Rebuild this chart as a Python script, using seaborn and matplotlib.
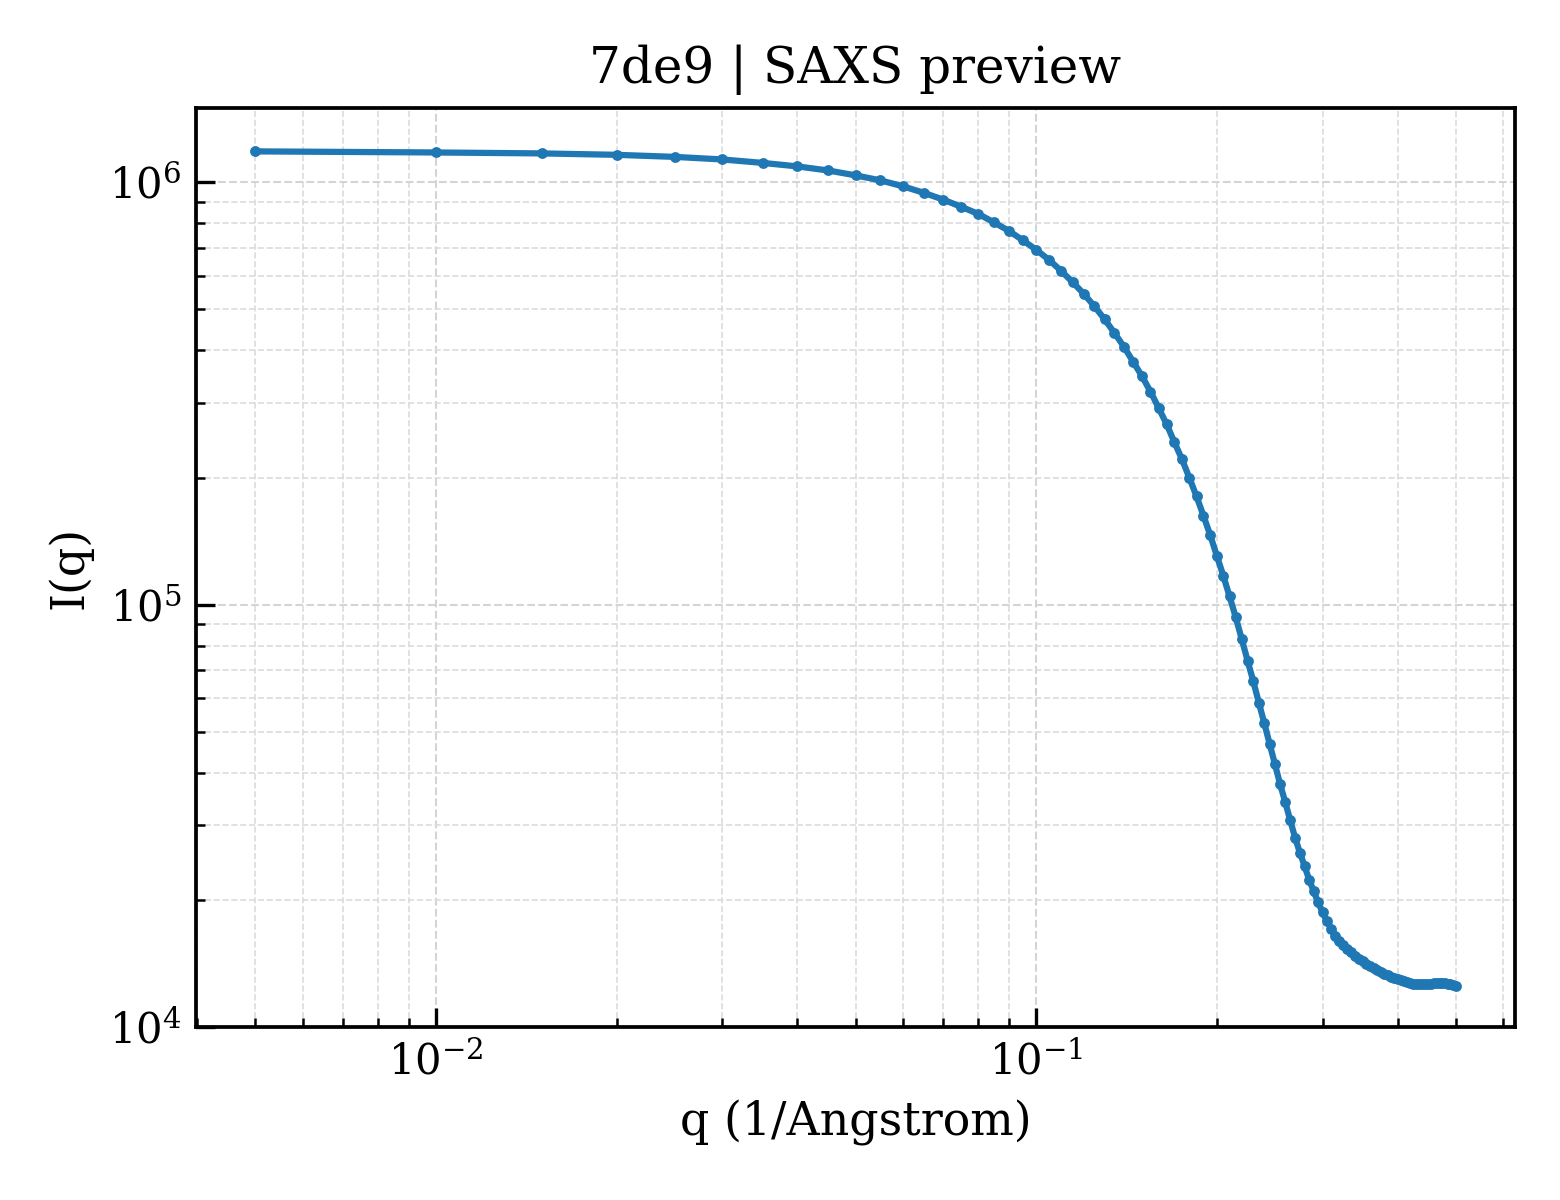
import numpy as np
import pandas as pd
import matplotlib
matplotlib.use("Agg")
import matplotlib.pyplot as plt
import seaborn as sns

title = "7de9 | SAXS preview"
x_label = "q (1/Angstrom)"
y_label = "I(q)"

q_values = [
    0.005, 0.010, 0.015, 0.020, 0.025, 0.030, 0.035, 0.040, 0.045, 0.050,
    0.055, 0.060, 0.065, 0.070, 0.075, 0.080, 0.085, 0.090, 0.095, 0.100,
    0.105, 0.110, 0.115, 0.120, 0.125, 0.130, 0.135, 0.140, 0.145, 0.150,
    0.155, 0.160, 0.165, 0.170, 0.175, 0.180, 0.185, 0.190, 0.195, 0.200,
    0.205, 0.210, 0.215, 0.220, 0.225, 0.230, 0.235, 0.240, 0.245, 0.250,
    0.255, 0.260, 0.265, 0.270, 0.275, 0.280, 0.285, 0.290, 0.295, 0.300,
    0.305, 0.310, 0.315, 0.320, 0.325, 0.330, 0.335, 0.340, 0.345, 0.350,
    0.355, 0.360, 0.365, 0.370, 0.375, 0.380, 0.385, 0.390, 0.395, 0.400,
    0.405, 0.410, 0.415, 0.420, 0.425, 0.430, 0.435, 0.440, 0.445, 0.450,
    0.455, 0.460, 0.465, 0.470, 0.475, 0.480, 0.485, 0.490, 0.495, 0.500,
]

intensity = [
    1184000, 1177000, 1171000, 1162000, 1149000, 1133000, 1112000, 1091000, 1067000, 1039000,
    1011000, 978500, 944500, 910100, 875300, 842500, 804400, 768000, 729300, 692500,
    655700, 617600, 580200, 544900, 509000, 474300, 440100, 408400, 376400, 347900,
    319700, 292200, 267200, 242200, 220800, 199600, 180500, 162400, 146000, 130500,
    117100, 104600, 93430, 82960, 73730, 65870, 58570, 52330, 46680, 41840,
    37530, 34080, 30860, 28080, 25880, 24060, 22320, 20970, 19720, 18690,
    17800, 17090, 16410, 16010, 15670, 15330, 15040, 14760, 14520, 14320,
    14130, 13980, 13810, 13640, 13510, 13380, 13260, 13160, 13070, 12980,
    12900, 12830, 12760, 12700, 12660, 12630, 12620, 12620, 12630, 12650,
    12670, 12690, 12700, 12700, 12690, 12680, 12660, 12620, 12550, 12480,
]

df = pd.DataFrame({"q": q_values, "I": intensity})

sns.set_style("ticks")
plt.rcParams["font.family"] = ["DejaVu Serif"]
plt.rcParams["mathtext.fontset"] = "dejavuserif"
plt.rcParams["text.color"] = "black"
plt.rcParams["axes.labelcolor"] = "black"
plt.rcParams["xtick.color"] = "black"
plt.rcParams["ytick.color"] = "black"

fig = plt.figure(figsize=(5.2, 4.0), dpi=300)
ax = fig.add_axes([0.1256, 0.1442, 0.9712 - 0.1256, 0.91 - 0.1442])

sns.lineplot(data=df, x="q", y="I", ax=ax, color="#1f77b4", linewidth=1.5,
             marker="o", markersize=2.6, markeredgewidth=0)

ax.set_xscale("log")
ax.set_yscale("log")
ax.set_xlim(0.00398, 0.628)
ax.set_ylim(1e4, 1.5e6)

ax.grid(True, which="major", linestyle="--", linewidth=0.5, color="#d4d4d4")
ax.grid(True, which="minor", linestyle="--", linewidth=0.4, color="#dcdcdc")
ax.set_axisbelow(True)

for s in ax.spines.values():
    s.set_linewidth(0.9)
    s.set_color("black")

ax.tick_params(which="major", direction="in", length=4.5, width=0.8, labelsize=10,
               colors="black", top=False, right=False)
ax.tick_params(which="minor", direction="in", length=2.2, width=0.6,
               colors="black", top=False, right=False)

ax.set_title(title, fontsize=12, color="black")
ax.set_xlabel(x_label, fontsize=11, color="black")
ax.set_ylabel(y_label, fontsize=11, color="black")

fig.savefig("out.png", dpi=300)
